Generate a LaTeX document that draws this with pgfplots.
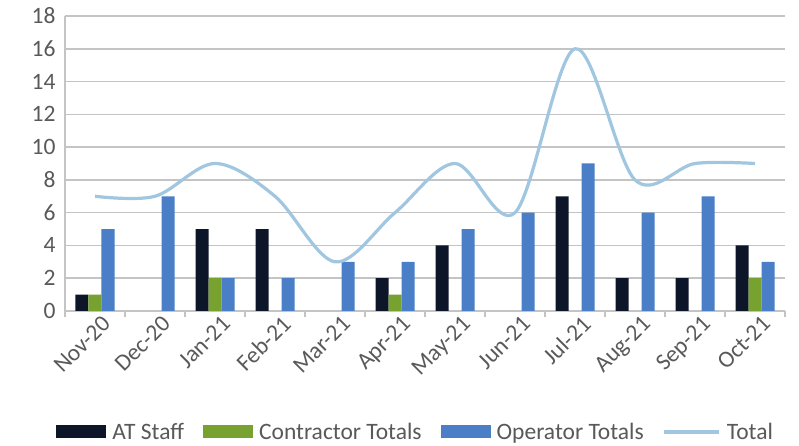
\documentclass[border=0pt]{standalone}
\usepackage{pgfplots}
\pgfplotsset{compat=1.18}
\usepackage{fontspec}
\setmainfont{Carlito}
\definecolor{atc}{HTML}{0C1628}
\definecolor{conc}{HTML}{78A22F}
\definecolor{opc}{HTML}{4A7EC7}
\definecolor{totc}{HTML}{A0C6E0}
\definecolor{txt}{HTML}{595959}
\definecolor{gridc}{HTML}{C4C4C4}
\newcommand{\cf}{\fontsize{23.5}{27}\selectfont}
\begin{document}
\begin{tikzpicture}
\useasboundingbox (-65pt,-135pt) rectangle (734pt,311pt);
\begin{axis}[
  scale only axis, width=720pt, height=295pt,
  xmin=-0.5, xmax=11.5, ymin=0, ymax=18,
  ytick={0,2,...,18},
  xtick={0,...,11},
  xticklabels={Nov-20,Dec-20,Jan-21,Feb-21,Mar-21,Apr-21,May-21,Jun-21,Jul-21,Aug-21,Sep-21,Oct-21},
  minor xtick={-0.5,0.5,...,11.5},
  axis lines=left,
  axis line style={-, draw=gridc, line width=1.5pt},
  ymajorgrids, grid style={draw=gridc, line width=1.5pt},
  major tick length=0pt, minor tick length=6pt, tick align=outside,
  minor tick style={draw=gridc, line width=1.5pt},
  /pgf/number format/assume math mode=true,
  ticklabel style={font=\cf, text=txt},
  yticklabel style={xshift=-6pt},
  xticklabel style={rotate=45, anchor=north east, yshift=-3pt, xshift=5pt},
  legend style={at={(0.487,-0.41)}, anchor=center, legend columns=-1, draw=none, font=\cf, text=txt,
    /tikz/every even column/.append style={column sep=17pt},
    /tikz/every odd column/.append style={column sep=4pt},
    inner sep=0pt},
  legend cell align=left,
]
\addplot[ybar, bar width=13pt, bar shift=-13pt, fill=atc, draw=none,
  legend image code/.code={\fill[atc] (0pt,-6.5pt) rectangle (50pt,6.5pt);}]
  coordinates {(0,1) (2,5) (3,5) (5,2) (6,4) (8,7) (9,2) (10,2) (11,4)};
\addlegendentry{AT Staff}
\addplot[ybar, bar width=13pt, bar shift=0pt, fill=conc, draw=none,
  legend image code/.code={\fill[conc] (0pt,-6.5pt) rectangle (50pt,6.5pt);}]
  coordinates {(0,1) (2,2) (5,1) (11,2)};
\addlegendentry{Contractor Totals}
\addplot[ybar, bar width=13pt, bar shift=13pt, fill=opc, draw=none,
  legend image code/.code={\fill[opc] (0pt,-6.5pt) rectangle (50pt,6.5pt);}]
  coordinates {(0,5) (1,7) (2,2) (3,2) (4,3) (5,3) (6,5) (7,6) (8,9) (9,6) (10,7) (11,3)};
\addlegendentry{Operator Totals}
\addplot[smooth, tension=0.55, draw=totc, line width=3.2pt, no marks,
  legend image code/.code={\draw[totc, line width=3.2pt] (0pt,0pt) -- (55pt,0pt);}]
  coordinates {(0,7) (1,7) (2,9) (3,7) (4,3) (5,6) (6,9) (7,6) (8,16) (9,8) (10,9) (11,9)};
\addlegendentry{Total}
\end{axis}
\end{tikzpicture}
\end{document}
